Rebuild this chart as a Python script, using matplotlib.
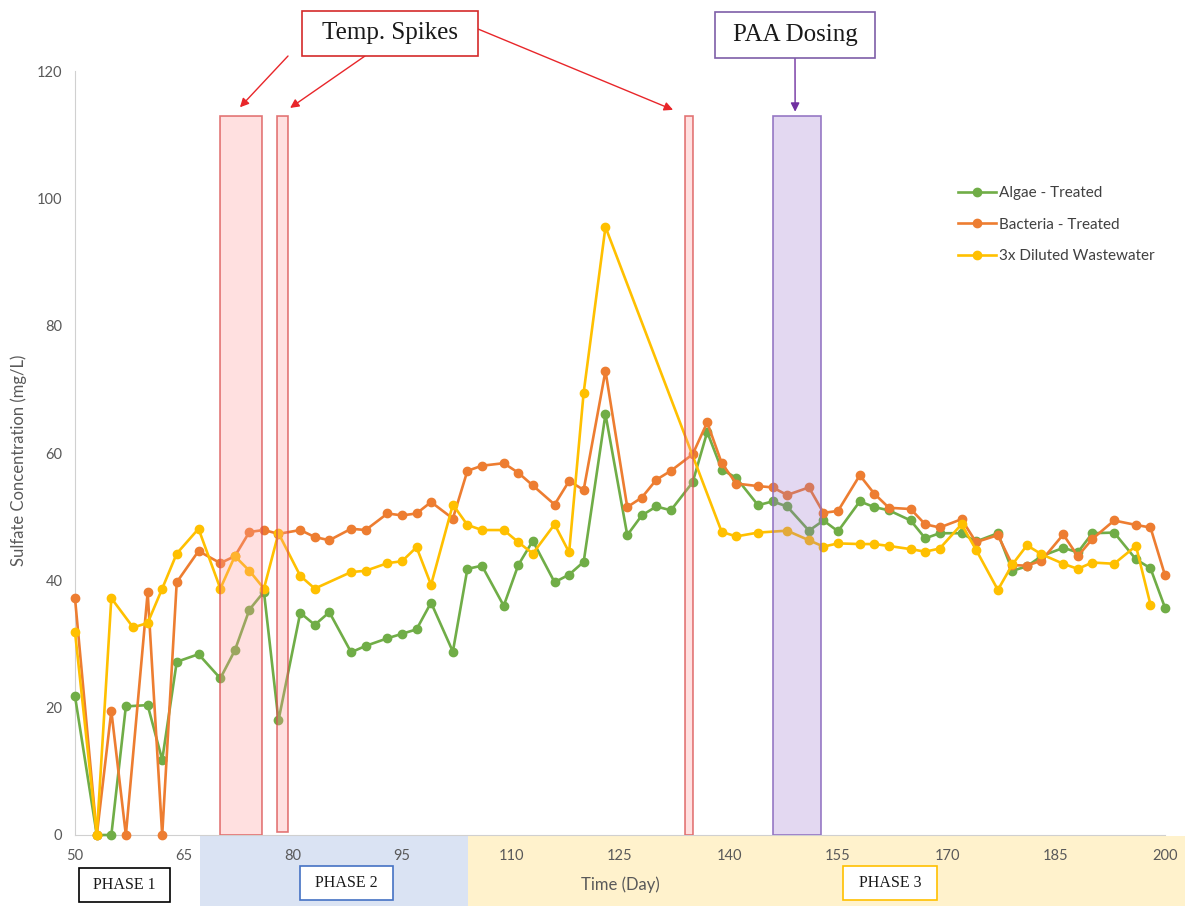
import matplotlib.pyplot as plt
from matplotlib.patches import Rectangle
from matplotlib.transforms import blended_transform_factory

# sampling days and sulfate readings (mg/L)
days = [50, 53, 55, 57, 60, 62, 64, 67, 70, 72, 74, 76, 78, 81, 83, 85, 88, 90, 93, 95,
        97, 99, 102, 104, 106, 109, 111, 113, 116, 118, 120, 123, 126, 128, 130, 132, 135,
        137, 139, 141, 144, 146, 148, 151, 153, 155, 158, 160, 162, 165, 167, 169, 172, 174,
        177, 179, 181, 183, 186, 188, 190, 193, 196, 198, 200]
algae = [21.8, 0, 0, 20.2, 20.4, 11.8, 27.2, 28.4, 24.6, 29.0, 35.4, 38.2, 18.0, 34.9, 33.0,
         35.0, 28.7, 29.7, 30.9, 31.6, 32.3, 36.5, 28.8, 41.8, 42.3, 36.0, 42.4, 46.2, 39.7,
         40.9, 42.9, 66.1, 47.1, 50.2, 51.6, 51.0, 55.4, 63.3, 57.4, 56.1, 51.8, 52.4, 51.6,
         47.8, 49.4, 47.7, 52.4, 51.5, 51.0, 49.4, 46.6, 47.4, 47.4, 46.1, 47.4, 41.5, 42.2,
         43.8, 45.1, 44.4, 47.4, 47.5, 43.3, 41.9, 35.7]
bacteria = [37.2, 0, 19.5, 0, 38.1, 0, 39.7, 44.6, 42.7, 43.8, 47.6, 47.9, 47.3, 47.9, 46.8,
            46.3, 48.1, 47.9, 50.5, 50.2, 50.5, 52.3, 49.7, 57.2, 58.0, 58.4, 56.9, 54.9, 51.9,
            55.6, 54.2, 72.9, 51.5, 53.0, 55.8, 57.2, 59.8, 64.8, 58.4, 55.2, 54.8, 54.6, 53.4,
            54.6, 50.6, 50.9, 56.5, 53.6, 51.4, 51.2, 48.8, 48.3, 49.6, 46.0, 47.1, 42.4, 42.3,
            43.1, 47.2, 43.8, 46.5, 49.4, 48.7, 48.3, 40.8]
ww_days = [50, 53, 55, 58, 60, 62, 64, 67, 70, 72, 74, 76, 78, 81, 83, 88, 90, 93, 95, 97,
           99, 102, 104, 106, 109, 111, 113, 116, 118, 120, 123, 139, 141, 144, 148, 151, 153,
           155, 158, 160, 162, 165, 167, 169, 172, 174, 177, 179, 181, 183, 186, 188, 190, 193,
           196, 198]
wastewater = [31.9, 0, 37.2, 32.6, 33.3, 38.7, 44.2, 48.1, 38.7, 43.8, 41.5, 38.7, 47.4, 40.7,
              38.7, 41.3, 41.5, 42.7, 43.0, 45.2, 39.3, 51.9, 48.7, 47.9, 47.9, 46.0, 44.2, 48.8,
              44.4, 69.5, 95.5, 47.6, 46.9, 47.5, 47.8, 46.3, 45.3, 45.8, 45.7, 45.7, 45.4, 44.9,
              44.5, 45.0, 48.8, 44.8, 38.5, 42.5, 45.5, 44.1, 42.6, 41.8, 42.8, 42.6, 45.4, 36.2]

# event windows (days) and the phase boundaries
temp_spikes = [(70.0, 75.7, 0.0), (77.8, 79.3, 0.5), (133.9, 135.0, 0.0)]
paa_dosing = (146.0, 152.6)
shade_top = 113
phase2_span = (67.2, 104.1)
phase3_span = (104.1, 203.0)

W, H = 1185, 906
fig = plt.figure(figsize=(W / 100, H / 100), dpi=100)
ax = fig.add_axes([75 / W, 1 - 835 / H, 1090 / W, 764 / H])

grey = '#595959'
style = dict(lw=1.9, marker='o', ms=6, clip_on=False)
ax.plot(days, algae, color='#70ad47', label='Algae - Treated', zorder=3, **style)
ax.plot(days, bacteria, color='#ed7d31', label='Bacteria - Treated', zorder=4, **style)
ax.plot(ww_days, wastewater, color='#ffc000', label='3x Diluted Wastewater', zorder=5, **style)

# shaded event windows sit over the lines
for x0, x1, y0 in temp_spikes:
    ax.add_patch(Rectangle((x0, y0), x1 - x0, shade_top - y0, facecolor=(1, 0.6, 0.6, 0.3),
                           edgecolor=(0.85, 0.3, 0.3, 0.75), lw=1.2, zorder=6))
ax.add_patch(Rectangle((paa_dosing[0], 0), paa_dosing[1] - paa_dosing[0], shade_top,
                       facecolor=(0.61, 0.45, 0.81, 0.28), edgecolor=(0.55, 0.42, 0.75, 0.9),
                       lw=1.2, zorder=6))

ax.set_xlim(50, 200)
ax.set_ylim(0, 120)
ax.set_xticks(range(50, 201, 15))
ax.set_yticks(range(0, 121, 20))
ax.tick_params(length=0, colors=grey, labelsize=10.5)
ax.tick_params(axis='x', pad=10)
ax.tick_params(axis='y', pad=9)
for lab in ax.get_xticklabels() + ax.get_yticklabels():
    lab.set_family('Lato')
for s in ['top', 'right']:
    ax.spines[s].set_visible(False)
for s in ['left', 'bottom']:
    ax.spines[s].set_color('#d0d0d0')
    ax.spines[s].set_zorder(2)

ax.set_ylabel('Sulfate Concentration (mg/L)', color=grey, fontsize=12, family='Lato')
ax.yaxis.label.set_va('center')
ax.yaxis.set_label_coords(-0.052, 0.49)
ax.set_xlabel('Time (Day)', color=grey, fontsize=12, family='Lato')
ax.xaxis.label.set_va('center')
ax.xaxis.set_label_coords(0.5, -0.065)

leg = ax.legend(loc='upper left', bbox_to_anchor=(958 / W, 1 - 186 / H),
                bbox_transform=fig.transFigure, frameon=False, borderpad=0, borderaxespad=0,
                handlelength=2.5, handletextpad=0.2, labelspacing=1.15,
                prop={'family': 'Lato', 'size': 11})
for t in leg.get_texts():
    t.set_color('#404040')

# phase bands under the axis
band = blended_transform_factory(ax.transData, fig.transFigure)
for (a, b), col in [(phase2_span, '#dae3f3'), (phase3_span, '#fff2cc')]:
    fig.add_artist(Rectangle((a, 0), b - a, 1 - 836 / H, transform=band,
                             facecolor=col, edgecolor='none', clip_on=False, zorder=0))


def px_box(x0, y0, x1, y1, text, edge, size, family, lw=1.2):
    fig.add_artist(Rectangle((x0 / W, 1 - y1 / H), (x1 - x0) / W, (y1 - y0) / H,
                             transform=fig.transFigure, facecolor='white', edgecolor=edge,
                             lw=lw, zorder=3))
    fig.text((x0 + x1) / 2 / W, 1 - (y0 + y1) / 2 / H, text, ha='center', va='center',
             fontsize=size, family=family, color='#1a1a1a', zorder=4)


px_box(79, 868, 170, 902, 'PHASE 1', '#000000', 11.5, 'Liberation Serif')
px_box(300, 866, 393, 900, 'PHASE 2', '#4472c4', 11.5, 'Liberation Serif')
px_box(843, 866, 937, 900, 'PHASE 3', '#ffc000', 11.5, 'Liberation Serif')
px_box(302, 11, 478, 56, 'Temp. Spikes', '#d42a2a', 18, 'Liberation Serif')
px_box(715, 12, 875, 58, 'PAA Dosing', '#7e5fa8', 18, 'Liberation Serif')

red_arrow = dict(arrowstyle='-|>', color='#e8262a', lw=1, shrinkA=0, shrinkB=0, mutation_scale=13)
for tail, tip in [((288, 56), (72.7, 114.3)), ((365, 56), (79.6, 114.2)), ((478, 29), (132.3, 113.9))]:
    ax.annotate('', xy=tip, xytext=(tail[0] / W, 1 - tail[1] / H), textcoords='figure fraction',
                arrowprops=red_arrow, annotation_clip=False)
ax.annotate('', xy=(149.1, 113.6), xytext=(795 / W, 1 - 58 / H), textcoords='figure fraction',
            arrowprops=dict(arrowstyle='-|>', color='#7030a0', lw=1, shrinkA=0, shrinkB=0,
                            mutation_scale=13), annotation_clip=False)

fig.savefig('out.png', dpi=100)
